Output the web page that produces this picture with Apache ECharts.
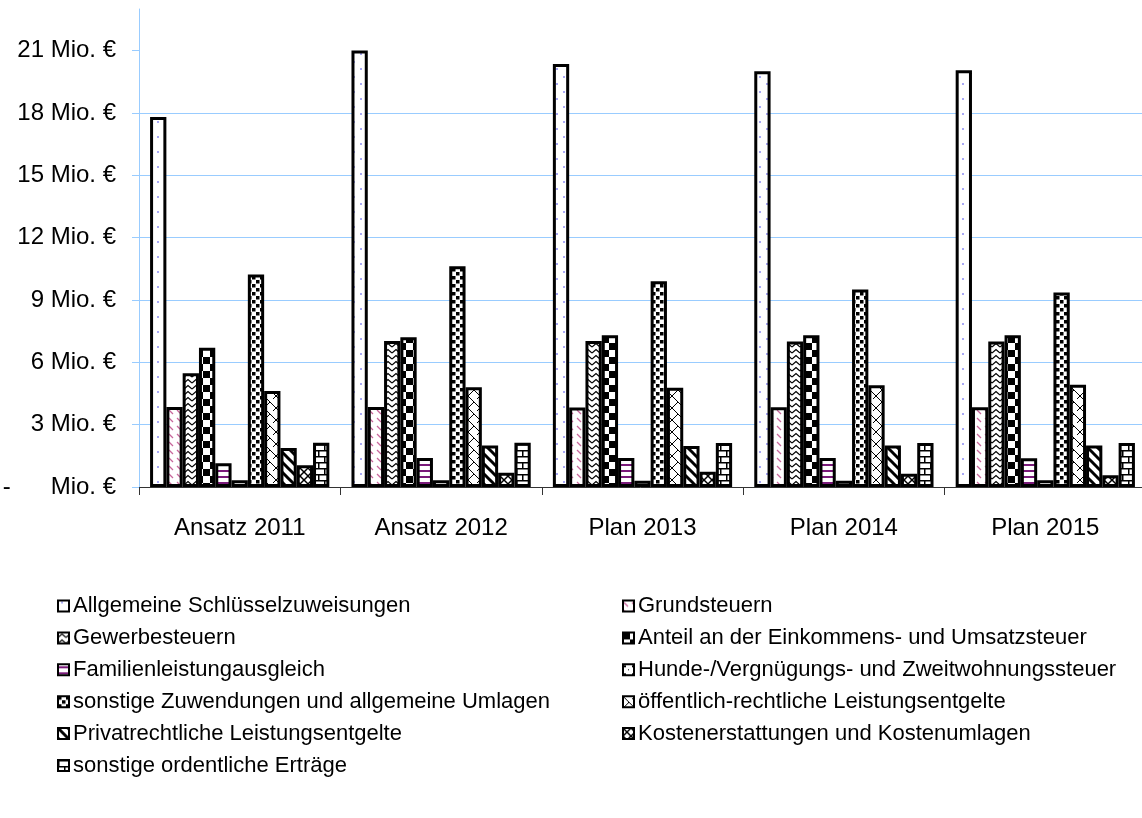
<!DOCTYPE html>
<html>
<head>
<meta charset="utf-8">
<title>Erträge</title>
<script src="https://cdn.jsdelivr.net/npm/echarts@6/dist/echarts.min.js"></script>
<style>
  html, body { margin: 0; padding: 0; background: #fff; }
  #chart { width: 1142px; height: 818px; }
</style>
</head>
<body>
<div id="chart"></div>
<script>
const categories = ['Ansatz 2011', 'Ansatz 2012', 'Plan 2013', 'Plan 2014', 'Plan 2015']
const yTicks = [0, 3, 6, 9, 12, 15, 18, 21]

// Werte in Mio. €
const allgemeine = [17.8, 21.0, 20.35, 20.0, 20.05]
const grundsteuern = [3.85, 3.85, 3.82, 3.84, 3.84]
const gewerbesteuern = [5.47, 7.02, 7.02, 7.0, 7.0]
const anteilEst = [6.7, 7.2, 7.3, 7.3, 7.3]
const familien = [1.14, 1.4, 1.4, 1.4, 1.38]
const hunde = [0.33, 0.33, 0.3, 0.3, 0.33]
const sonstZuw = [10.22, 10.62, 9.9, 9.5, 9.36]
const oeffentlich = [4.62, 4.8, 4.77, 4.9, 4.92]
const privat = [1.88, 2.0, 1.97, 2.0, 2.0]
const kosten = [1.05, 0.68, 0.73, 0.64, 0.57]
const sonstOrd = [2.13, 2.13, 2.12, 2.12, 2.12]

const names = [
  'Allgemeine Schlüsselzuweisungen',
  'Grundsteuern',
  'Gewerbesteuern',
  'Anteil an der Einkommens- und Umsatzsteuer',
  'Familienleistungausgleich',
  'Hunde-/Vergnügungs- und Zweitwohnungssteuer',
  'sonstige Zuwendungen und allgemeine Umlagen',
  'öffentlich-rechtliche Leistungsentgelte',
  'Privatrechtliche Leistungsentgelte',
  'Kostenerstattungen und Kostenumlagen',
  'sonstige ordentliche Erträge'
]
const values = [allgemeine, grundsteuern, gewerbesteuern, anteilEst, familien, hunde,
  sonstZuw, oeffentlich, privat, kosten, sonstOrd]

// small canvas tiles as fill patterns (like the Excel hatch fills)
function tile(w, h, draw) {
  const c = document.createElement('canvas')
  c.width = w
  c.height = h
  const g = c.getContext('2d')
  g.fillStyle = '#fff'
  g.fillRect(0, 0, w, h)
  draw(g)
  return { image: c, repeat: 'repeat' }
}

function line(g, pts, color, width) {
  g.strokeStyle = color
  g.lineWidth = width
  g.beginPath()
  g.moveTo(pts[0][0], pts[0][1])
  for (let i = 1; i < pts.length; i++) g.lineTo(pts[i][0], pts[i][1])
  g.stroke()
}

const patterns = [
  // light blue dots
  tile(14, 15, g => {
    g.fillStyle = '#a8a8f5'
    g.fillRect(3, 1, 2, 2)
    g.fillRect(10, 8, 2, 2)
  }),
  // pink dashes
  tile(8, 8, g => {
    line(g, [[1, 2], [5, 6]], '#c8679c', 1.3)
  }),
  // zigzag
  tile(8, 6, g => {
    line(g, [[0, 5], [4, 1.5], [8, 5]], '#000', 1.2)
  }),
  // checkerboard
  tile(14, 14, g => {
    g.fillStyle = '#000'
    g.fillRect(0, 0, 7, 7)
    g.fillRect(7, 7, 7, 7)
  }),
  // purple horizontal lines
  tile(6, 6, g => {
    g.fillStyle = '#7a1a7a'
    g.fillRect(0, 2, 6, 2)
  }),
  // small confetti
  tile(8, 8, g => {
    g.fillStyle = '#000'
    g.fillRect(1, 1, 2, 2)
    g.fillRect(5, 5, 1, 1)
  }),
  // dotted squares
  tile(8, 8, g => {
    g.fillStyle = '#000'
    g.fillRect(0, 0, 3.5, 3.5)
    g.fillRect(4, 4, 3.5, 3.5)
  }),
  // diagonal weave
  tile(12, 12, g => {
    line(g, [[0, 0], [12, 12]], '#000', 1)
    line(g, [[6, 6], [0, 12]], '#000', 1)
    line(g, [[12, 0], [9, 3]], '#000', 1)
  }),
  // wide downward diagonal
  tile(10, 10, g => {
    line(g, [[-2, -2], [12, 12]], '#000', 3)
    line(g, [[-2, 8], [2, 12]], '#000', 3)
    line(g, [[8, -2], [12, 2]], '#000', 3)
  }),
  // cross hatch
  tile(8, 8, g => {
    line(g, [[0, 0], [8, 8]], '#000', 1.5)
    line(g, [[8, 0], [0, 8]], '#000', 1.5)
  }),
  // horizontal brick
  tile(12, 12, g => {
    g.fillStyle = '#000'
    g.fillRect(0, 0, 12, 1.5)
    g.fillRect(0, 6, 12, 1.5)
    g.fillRect(0, 0, 1.5, 6)
    g.fillRect(6, 6, 1.5, 6)
  })
]

const font = "'Liberation Sans', Arial, sans-serif"
const gridBlue = '#99ccff'

const series = names.map((n, i) => ({
  name: n,
  type: 'bar',
  data: values[i],
  barGap: '0%',
  barCategoryGap: '11%',
  itemStyle: {
    color: patterns[i],
    borderColor: '#000',
    borderWidth: 3
  },
  emphasis: { disabled: true }
}))

const legendBase = {
  orient: 'vertical',
  top: 590,
  itemWidth: 11,
  itemHeight: 11,
  itemGap: 9.9,
  icon: 'rect',
  selectedMode: false,
  itemStyle: { borderColor: '#000', borderWidth: 2 },
  textStyle: { fontFamily: font, fontSize: 22, color: '#000', padding: [0, 0, 0, -1] }
}

const chart = echarts.init(document.getElementById('chart'))
chart.setOption({
  animation: false,
  backgroundColor: '#fff',
  grid: {
    left: 139,
    top: 9,
    width: 1007,
    height: 478,
    outerBoundsMode: 'none'
  },
  legend: [
    Object.assign({}, legendBase, { left: 52, data: names.filter((n, i) => i % 2 === 0) }),
    Object.assign({}, legendBase, { left: 617, data: names.filter((n, i) => i % 2 === 1) })
  ],
  xAxis: {
    type: 'category',
    data: categories,
    axisLine: { lineStyle: { color: '#333', width: 1 } },
    axisTick: { show: true, length: 8, lineStyle: { color: '#333' } },
    axisLabel: { margin: 29, fontFamily: font, fontSize: 24, color: '#000' }
  },
  yAxis: {
    type: 'value',
    min: 0,
    max: 23,
    interval: 3,
    axisLine: { show: true, lineStyle: { color: gridBlue } },
    axisTick: { show: true, length: 7, lineStyle: { color: gridBlue }, customValues: yTicks },
    axisLabel: {
      margin: 23,
      customValues: yTicks,
      fontFamily: font,
      fontSize: 24,
      color: '#000',
      formatter: v => (v === 0 ? '-      Mio. €' : v + ' Mio. €')
    },
    splitLine: { show: true, showMinLine: false, showMaxLine: false, lineStyle: { color: gridBlue } }
  },
  series: series
})
</script>
</body>
</html>
